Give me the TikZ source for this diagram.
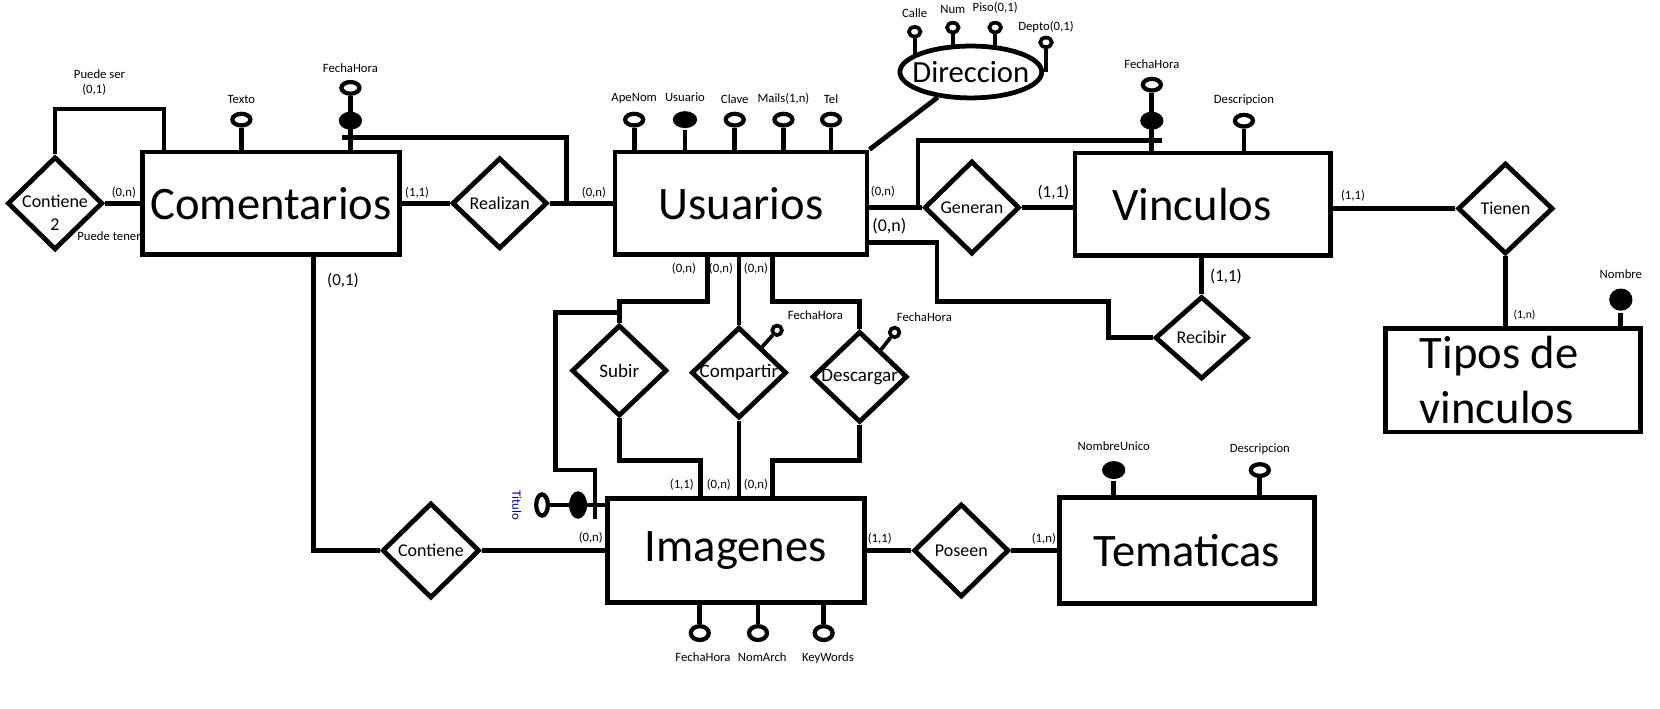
\documentclass[tikz,border=0pt]{standalone}
\usepackage{fontspec}
\setmainfont{Carlito}
\usepackage{tikz}
\usetikzlibrary{backgrounds,shapes}

\begin{document}
\begin{tikzpicture}[x=1pt,y=-1pt,line width=4.5pt,
  entidad/.style={rectangle, draw, fill=white, inner sep=0pt, font=\fontsize{44}{52}\selectfont},
  relacion/.style={diamond, draw, fill=white, inner sep=-4pt, align=center, minimum width=90pt, minimum height=88pt, font=\fontsize{17}{22}\selectfont},
  atrib/.style={ellipse, draw, fill=white, line width=4pt, inner sep=0pt, minimum width=17pt, minimum height=11pt},
  atribch/.style={ellipse, draw, fill=white, line width=3.5pt, inner sep=0pt, minimum width=11pt, minimum height=9pt},
  clave/.style={ellipse, fill=black, inner sep=0pt, minimum width=22pt, minimum height=17pt},
  card/.style={inner sep=0pt, font=\fontsize{12}{14}\selectfont},
  cardg/.style={inner sep=0pt, font=\fontsize{16}{19}\selectfont},
  linea/.style={line width=4.5pt},
  lineach/.style={line width=3.5pt},
  every label/.style={inner sep=0pt, font=\fontsize{12}{14}\selectfont},
  label distance=5pt]
      \useasboundingbox (0,0) rectangle (1568,669);
      \node[entidad, minimum width=243pt, minimum height=97pt] at (256,192) (coment) {Comentarios};
      \node[entidad, minimum width=238pt, minimum height=97pt] at (700,192) (usu) {Usuarios};
      \node[entidad, minimum width=241pt, minimum height=97pt] at (1136,193) (vinc) {\makebox[0pt]{\hspace*{-20pt}Vinculos}};
      \node[entidad, minimum width=241pt, minimum height=98pt, text width=176pt, align=flush left] at (1429,359) (tip) {Tipos de\\vinculos};
      \node[entidad, minimum width=243pt, minimum height=98pt] at (695,520) (img) {Imagenes};
      \node[entidad, minimum width=241pt, minimum height=100pt] at (1121,520) (tem) {Tematicas};
      \node[ellipse, draw, fill=white, inner sep=0pt, minimum width=134pt, minimum height=49pt, font=\fontsize{29}{34}\selectfont] at (917,68) (dir) {\makebox[0pt]{Direccion}};
      \node[relacion] at (52,192) (cont2) {\raisebox{-15pt}[0pt][0pt]{\begin{tabular}{@{}c@{}}Contiene\\2\end{tabular}}};
      \node[relacion, minimum height=86pt] at (472,192) (real) {Realizan};
      \node[relacion] at (918,196) (gen) {Generan};
      \node[relacion, minimum width=88pt, minimum height=78pt] at (1135,319) (reci) {Recibir};
      \node[relacion, minimum height=86pt] at (1422,197) (tie) {Tienen};
      \node[relacion, minimum height=86pt, font=\fontsize{18}{20}\selectfont] at (585,350) (sub) {Subir};
      \node[relacion, minimum height=86pt, font=\fontsize{18}{20}\selectfont] at (698,352) (comp) {Compartir};
      \node[relacion, minimum height=86pt, font=\fontsize{18}{20}\selectfont] at (812,356) (desc) {Descargar};
      \node[relacion, minimum width=92pt, minimum height=90pt] at (407,520) (cont) {Contiene};
      \node[relacion] at (908,520) (pos) {Poseen};
      \node[atrib, label=above:Texto] at (228,113) (tex) {};
      \node[atrib, label=above:FechaHora] at (331,83) (fhc) {};
      \node[clave] at (331,114) (fhck) {};
      \node[atrib, label=above:ApeNom] at (599,113) (apen) {};
      \node[clave, minimum width=23pt, minimum height=16pt, label=above:Usuario] at (647,113) (usk) {};
      \node[atrib, label=above:Clave] at (694,113) (clav) {};
      \node[atrib, label={above:Mails(1,n)}] at (740,113) (mail) {};
      \node[atrib, label=above:Tel] at (785,113) (tel) {};
      \node[atribch, label=above:Calle] at (864,30) (calle) {};
      \node[atribch, label=above:Num] at (900,26) (num) {};
      \node[atribch, label={above:Piso(0,1)}] at (940,26) (piso) {};
      \node[atribch, label={[label distance=1pt]above:Depto(0,1)}] at (988,40) (depto) {};
      \node[atrib, label=above:FechaHora] at (1088,80) (fhv) {};
      \node[clave] at (1088,114) (fhvk) {};
      \node[atrib, label=above:Descripcion] at (1175,114) (desv) {};
      \node[clave, minimum width=22pt, minimum height=21pt, label=above:Nombre] at (1531,283) (nom) {};
      \node[atrib, minimum height=13pt, label={[xshift=3pt, label distance=8pt]below:FechaHora}] at (661,598) (fhi) {};
      \node[atrib, minimum height=13pt, label={[xshift=4pt, label distance=8pt]below:NomArch}] at (716,598) (nomar) {};
      \node[atrib, minimum height=13pt, label={[xshift=4pt, label distance=8pt]below:KeyWords}] at (778,598) (kw) {};
      \node[atrib, minimum width=11pt, minimum height=20pt] at (512,477) (tit) {};
      \node[clave, minimum width=17pt, minimum height=26pt] at (546,477) (titk) {};
      \node[rotate=-90, inner sep=0pt, text=blue!55!black, font=\fontsize{12}{14}\selectfont] at (488,477) (titl) {Titulo};
      \node[clave, label=above:NombreUnico] at (1052,444) (nomu) {};
      \node[atrib, label=above:Descripcion] at (1190,444) (dest) {};
      \node[atribch, minimum width=9pt, label=above right:FechaHora] at (734,312) (fhcomp) {};
      \node[atribch, minimum width=9pt, label={[xshift=-8pt]above right:FechaHora}] at (845,314) (fhdesc) {};
      \node[card] at (94,70) (pser) {Puede ser};
      \node[card] at (89,85) (pser1) {(0,1)};
      \node[card] at (117,182) (c2n) {(0,n)};
      \node[card] at (103,223) (pten) {Puede tener};
      \node[card] at (394,182) (cr1) {(1,1)};
      \node[card] at (561,182) (cr2) {(0,n)};
      \node[cardg] at (324,265) (cc1) {(0,1)};
      \node[card] at (834,181) (cg1) {(0,n)};
      \node[cardg, font=\fontsize{17}{19}\selectfont] at (840,214) (crc1) {(0,n)};
      \node[cardg] at (995,182) (cg2) {(1,1)};
      \node[cardg] at (1158,261) (crc2) {(1,1)};
      \node[card] at (1278,185) (ct1) {(1,1)};
      \node[card, font=\fontsize{11}{13}\selectfont] at (1440,298) (ct2) {(1,n)};
      \node[card] at (646,254) (cs1) {(0,n)};
      \node[card] at (681,254) (cco1) {(0,n)};
      \node[card] at (714,254) (cd1) {(0,n)};
      \node[card] at (644,458) (cs2) {(1,1)};
      \node[card] at (679,458) (cco2) {(0,n)};
      \node[card] at (714,458) (cd2) {(0,n)};
      \node[card] at (558,508) (cc2) {(0,n)};
      \node[card] at (831,509) (cp1) {(1,1)};
      \node[card] at (986,509) (cp2) {(1,n)};
      \coordinate (lp) at (155,103);
      \coordinate (aggc1) at (323,130);
      \coordinate (aggc2) at (535,130);
      \coordinate (cb) at (296,520);
      \coordinate (ag1) at (867,133);
      \coordinate (ag2) at (1098,133);
      \coordinate (rc1) at (885,285);
      \coordinate (rc2) at (1047,319);
      \coordinate (su1) at (668,285);
      \coordinate (su2) at (662,435);
      \coordinate (ags1) at (525,295);
      \coordinate (ags2) at (562,444);
      \coordinate (ags3) at (562,490);
      \coordinate (de1) at (730,285);
      \coordinate (de2) at (730,435);
      \begin{scope}[on background layer, every path/.style={linea}]
      \draw (cont2) |- (lp) -- (lp |- coment);
      \draw (cont2) -- (coment);
      \draw (coment) -- (real) -- (usu);
      \draw (aggc1) -- (aggc2) -- (aggc2 |- usu);
      \draw (tex) -- (tex |- coment);
      \draw (fhc) -- (fhc |- coment);
      \draw (cb |- coment) -- (cb) -- (cont);
      \draw (cont) -- (img);
      \draw (img) -- (pos) -- (tem);
      \draw (apen) -- (apen |- usu);
      \draw (usk) -- (usk |- usu);
      \draw (clav) -- (clav |- usu);
      \draw (mail) -- (mail |- usu);
      \draw (tel) -- (tel |- usu);
      \draw (usu.north east) -- (dir);
      \draw[lineach] (calle) -- (calle |- dir);
      \draw[lineach] (num) -- (num |- dir);
      \draw[lineach] (piso) -- (piso |- dir);
      \draw[lineach] (depto) -- (depto |- dir);
      \draw (usu.center |- gen) -- (gen);
      \draw (ag1 |- gen) -- (ag1) -- (ag2);
      \draw (gen) -- (gen -| vinc);
      \draw (fhv) -- (fhv |- vinc);
      \draw (desv) -- (desv |- vinc);
      \draw ([yshift=-37pt]usu.east) -| (rc1) -| (rc2) -- (reci);
      \draw (reci) -- (reci |- vinc);
      \draw (vinc.center |- tie) -- (tie) -- (tie |- tip);
      \draw (nom) -- (nom |- tip);
      \draw (su1 |- usu) -- (su1) -| (sub);
      \draw (sub |- ags1) -- (ags1) |- (ags2) -- (ags3);
      \draw (sub) |- (su2) -- (su2 |- img);
      \draw (comp |- usu) -- (comp) -- (comp |- img);
      \draw (de1 |- usu) -- (de1) -| (desc);
      \draw (desc) |- (de2) -- (de2 |- img);
      \draw[lineach] (fhcomp) -- (comp);
      \draw[lineach] (fhdesc) -- (desc);
      \draw (tit) -- (tit -| img);
      \draw (fhi) -- (fhi |- img);
      \draw (nomar) -- (nomar |- img);
      \draw (kw) -- (kw |- img);
      \draw (nomu) -- (nomu |- tem);
      \draw (dest) -- (dest |- tem);
      \end{scope}
\end{tikzpicture}
\end{document}
